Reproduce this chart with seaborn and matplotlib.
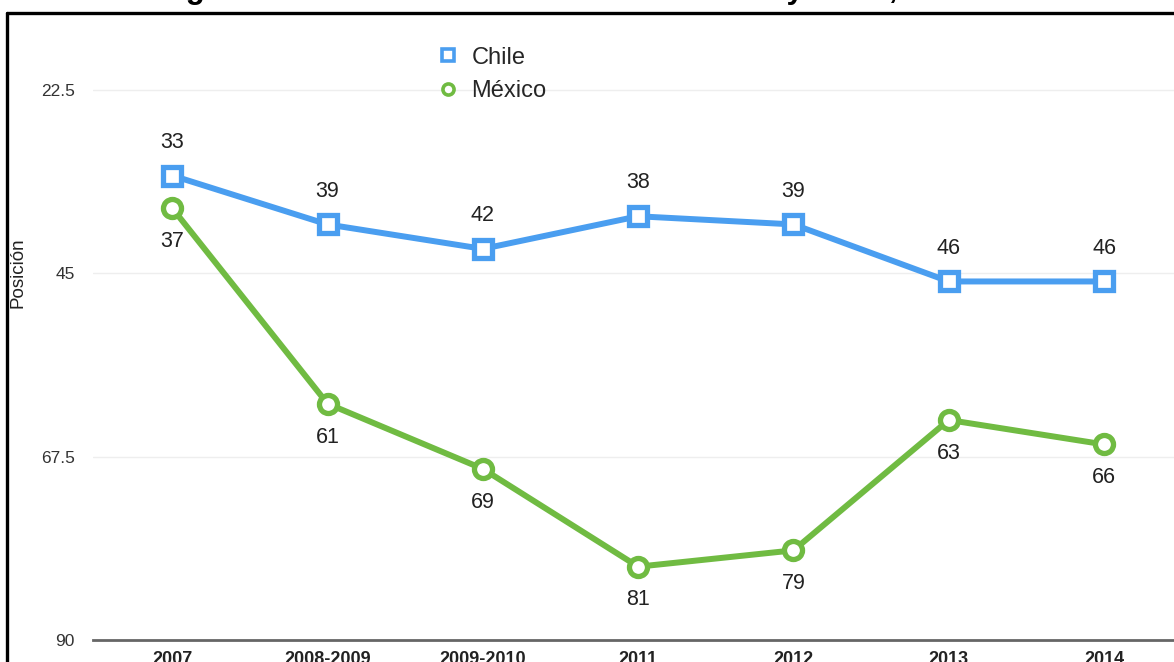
import matplotlib
matplotlib.use("Agg")
import matplotlib.pyplot as plt
from matplotlib.lines import Line2D
import seaborn as sns
import pandas as pd

# Ranking positions by period
periods = ["2007", "2008-2009", "2009-2010", "2011", "2012", "2013", "2014"]
chile = [33, 39, 42, 38, 39, 46, 46]
mexico = [37, 61, 69, 81, 79, 63, 66]
series_names = ["Chile", "México"]
y_ticks = [22.5, 45, 67.5, 90]
y_tick_labels = ["22.5", "45", "67.5", "90"]

BLUE = "#4a9ef0"
GREEN = "#70bb42"

sns.set_theme(style="white")
plt.rcParams["font.family"] = ["Liberation Sans", "DejaVu Sans"]

df = pd.DataFrame({
    "Periodo": periods * 2,
    "Posición": chile + mexico,
    "País": [series_names[0]] * len(periods) + [series_names[1]] * len(periods),
})

W, H = 1174, 662
fig = plt.figure(figsize=(W / 100, H / 100), dpi=100)
ax = fig.add_axes([93 / W, 1 - 640 / H, 1 - 93 / W, (640 - 15) / H])

palette = {series_names[0]: BLUE, series_names[1]: GREEN}
markers = {series_names[0]: "s", series_names[1]: "o"}
sns.lineplot(data=df, x="Periodo", y="Posición", hue="País", style="País",
             palette=palette, markers=markers, dashes=False, sort=False,
             linewidth=4.3, markersize=13, markeredgewidth=3.8,
             markerfacecolor="white", legend=False, ax=ax)
for ln in ax.lines:
    ln.set_markerfacecolor("white")
    ln.set_markeredgecolor(ln.get_color())

# Value labels: Chile above its markers, México below
for i, v in enumerate(chile):
    ax.annotate(str(v), (i, v), xytext=(0, 24), textcoords="offset points",
                ha="center", va="center", fontsize=15.5, color="#222222")
for i, v in enumerate(mexico):
    ax.annotate(str(v), (i, v), xytext=(0, -24), textcoords="offset points",
                ha="center", va="center", fontsize=15.5, color="#222222")

ax.set_xlim(-0.51, 6.45)
ax.set_ylim(90, 13.3)
ax.set_yticks(y_ticks)
ax.set_yticklabels(y_tick_labels)
ax.tick_params(axis="y", length=0, pad=13, labelsize=12.5, labelcolor="#333333")
ax.tick_params(axis="x", length=0, pad=8, labelsize=13, labelcolor="#222222")
for lbl in ax.get_xticklabels():
    lbl.set_fontweight("bold")
ax.set_xlabel("")
ax.set_ylabel("Posición", fontsize=13.5, color="#222222")
ax.yaxis.set_label_coords((27 - 93) / 1081, (640 - 273) / 625)

ax.yaxis.grid(True, color="#eeeeee", linewidth=1)
ax.xaxis.grid(False)
for side in ["top", "right", "left"]:
    ax.spines[side].set_visible(False)
ax.spines["bottom"].set_color("#666666")
ax.spines["bottom"].set_linewidth(2)
ax.set_facecolor("white")

handles = [
    Line2D([], [], linestyle="none", marker="s", markersize=8, markeredgewidth=2.6,
           markerfacecolor="white", markeredgecolor=BLUE),
    Line2D([], [], linestyle="none", marker="o", markersize=8, markeredgewidth=2.6,
           markerfacecolor="white", markeredgecolor=GREEN),
]
ax.legend(handles, series_names, loc="upper left",
          bbox_to_anchor=((422 - 93) / 1081, (640 - 30) / 625),
          frameon=False, fontsize=17, handlelength=0.8, handletextpad=0.6,
          labelspacing=0.5, borderpad=0.2)

# Outer frame
fig.add_artist(Line2D([7 / W, 7 / W], [0, 1 - 13 / H], transform=fig.transFigure,
                      color="black", linewidth=2.4))
fig.add_artist(Line2D([7 / W, 1], [1 - 13 / H, 1 - 13 / H], transform=fig.transFigure,
                      color="black", linewidth=2.4))

# Title sitting at the top edge
fig.text(607 / W, 1 + 2 / H, "Figura 4. Posiciones históricas de México y Chile, 2007-2014",
         ha="center", va="baseline", fontsize=22.5, fontweight="bold", color="black")

fig.savefig("out.png", dpi=100, facecolor="white")
